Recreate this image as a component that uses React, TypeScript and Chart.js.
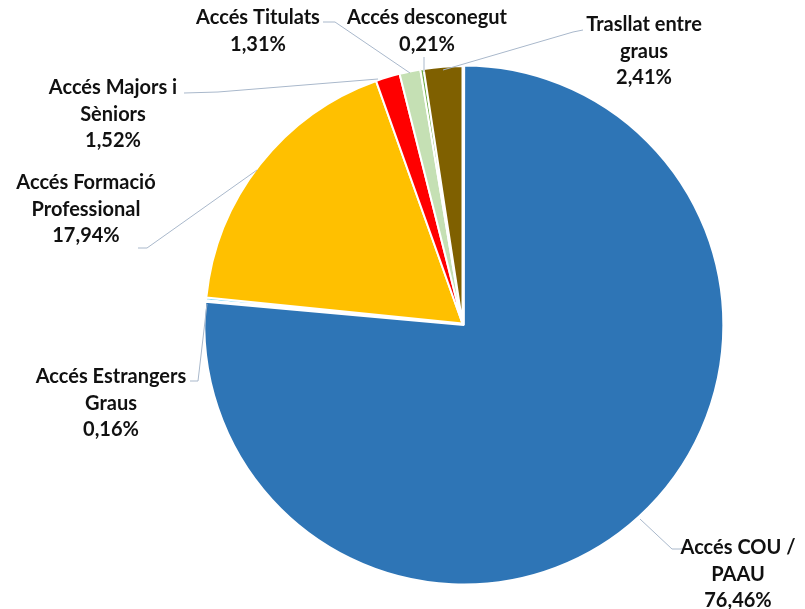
import React, { useEffect, useRef } from "react";
import { Chart, registerables } from "chart.js";

Chart.register(...registerables);

const categories = [
  ["Accés COU /", "PAAU"],
  ["Accés Estrangers", "Graus"],
  ["Accés Formació", "Professional"],
  ["Accés Majors i", "Sèniors"],
  ["Accés Titulats"],
  ["Accés desconegut"],
  ["Trasllat entre", "graus"],
];
const values = [76.46, 0.16, 17.94, 1.52, 1.31, 0.21, 2.41];
const valueLabels = ["76,46%", "0,16%", "17,94%", "1,52%", "1,31%", "0,21%", "2,41%"];
const colors = ["#2E75B6", "#00B0F0", "#FFC000", "#FF0000", "#C5E0B4", "#70AD47", "#7F6000"];

// label placement: text center x, first line center y, leader polyline (label side first)
const labelLayout: { x: number; y: number; line: [number, number][] }[] = [
  { x: 738, y: 548, line: [[683, 549], [672, 549], [640, 519]] },
  { x: 111, y: 377, line: [[190, 381], [198, 381], [207, 304]] },
  { x: 86, y: 183, line: [[138, 248], [147, 248], [257, 170]] },
  { x: 113, y: 88, line: [[184, 93], [218, 92], [378, 79]] },
  { x: 258, y: 18, line: [[323, 22], [335, 22], [410, 73]] },
  { x: 427, y: 18, line: [[424, 57], [424, 72]] },
  { x: 644, y: 25, line: [[583, 30], [573, 32], [443, 70]] },
];

const labelPlugin = {
  id: "pieLabels",
  afterDraw(chart: any) {
    const ctx = chart.ctx as CanvasRenderingContext2D;
    ctx.save();
    ctx.strokeStyle = "#A9B8CB";
    ctx.lineWidth = 1;
    labelLayout.forEach((l) => {
      ctx.beginPath();
      l.line.forEach(([x, y], i) => (i === 0 ? ctx.moveTo(x, y) : ctx.lineTo(x, y)));
      ctx.stroke();
    });
    ctx.fillStyle = "#111111";
    ctx.font = "bold 20px Lato, 'Open Sans', sans-serif";
    ctx.textAlign = "center";
    ctx.textBaseline = "middle";
    labelLayout.forEach((l, i) => {
      const lines = [...categories[i], valueLabels[i]];
      lines.forEach((t, j) => ctx.fillText(t, l.x, l.y + j * 26.5));
    });
    ctx.restore();
  },
};

export default function App() {
  const ref = useRef<HTMLCanvasElement>(null);
  useEffect(() => {
    if (!ref.current) return;
    const chart = new Chart(ref.current, {
      type: "pie",
      data: {
        labels: categories.map((c) => c.join(" ")),
        datasets: [
          {
            data: values,
            backgroundColor: colors,
            borderColor: "#ffffff",
            borderWidth: 2,
            offset: [8, 0, 0, 0, 0, 0, 0],
          },
        ],
      },
      options: {
        animation: false,
        responsive: false,
        devicePixelRatio: 1,
        layout: { padding: { left: 200, right: 80, top: 61, bottom: 23 } },
        plugins: { legend: { display: false }, tooltip: { enabled: false } },
      },
      plugins: [labelPlugin],
    });
    return () => chart.destroy();
  }, []);
  return (
    <div style={{ position: "absolute", left: 0, top: 0, width: 805, height: 609, background: "#fff" }}>
      <canvas ref={ref} width={805} height={609} style={{ width: 805, height: 609 }} />
    </div>
  );
}
